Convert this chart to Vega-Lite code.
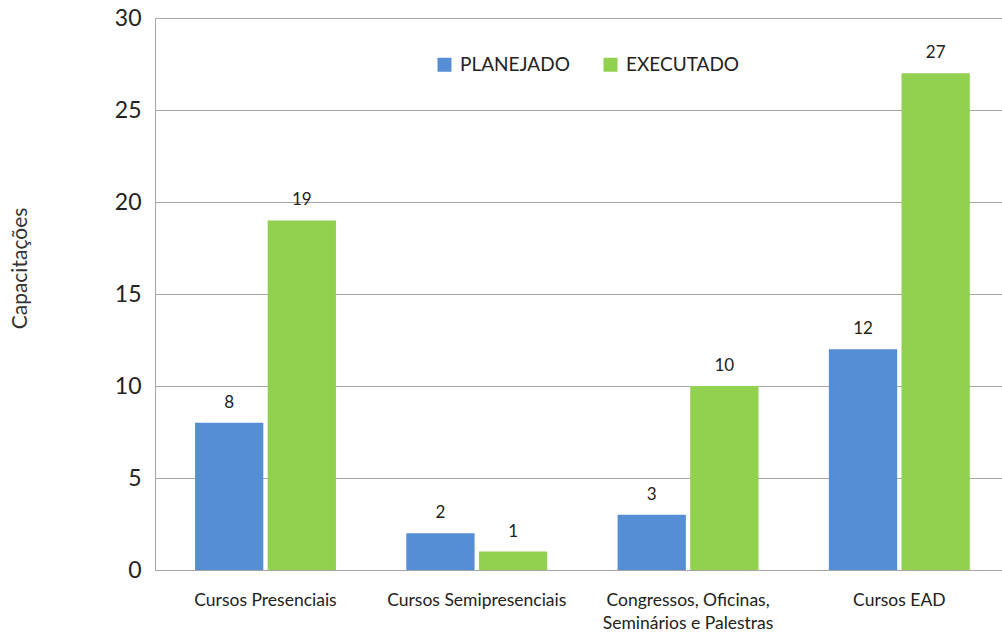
{
  "$schema": "https://vega.github.io/schema/vega-lite/v6.json",
  "autosize": "none",
  "width": 847,
  "height": 552,
  "padding": {"left": 155, "top": 18, "right": 0, "bottom": 62},
  "background": "white",
  "config": {
    "font": "Lato",
    "view": {"stroke": null}
  },
  "data": {
    "values": [
      {"categoria": "Cursos Presenciais", "tipo": "PLANEJADO", "valor": 8},
      {"categoria": "Cursos Presenciais", "tipo": "EXECUTADO", "valor": 19},
      {"categoria": "Cursos Semipresenciais", "tipo": "PLANEJADO", "valor": 2},
      {"categoria": "Cursos Semipresenciais", "tipo": "EXECUTADO", "valor": 1},
      {"categoria": "Congressos, Oficinas, Seminários e Palestras", "tipo": "PLANEJADO", "valor": 3},
      {"categoria": "Congressos, Oficinas, Seminários e Palestras", "tipo": "EXECUTADO", "valor": 10},
      {"categoria": "Cursos EAD", "tipo": "PLANEJADO", "valor": 12},
      {"categoria": "Cursos EAD", "tipo": "EXECUTADO", "valor": 27}
    ]
  },
  "encoding": {
    "x": {
      "field": "categoria",
      "type": "nominal",
      "sort": null,
      "scale": {"paddingInner": 0.333, "paddingOuter": 0.171, "align": 0.554},
      "axis": {
        "title": null,
        "labelAngle": 0,
        "labelFontSize": 17.5,
        "labelColor": "#222222",
        "labelPadding": 21,
        "labelLineHeight": 23,
        "labelBaseline": "top",
        "ticks": false,
        "domainColor": "#A6A6A6",
        "labelExpr": "datum.label == 'Congressos, Oficinas, Seminários e Palestras' ? ['Congressos, Oficinas,', 'Seminários e Palestras'] : datum.label"
      }
    },
    "xOffset": {
      "field": "tipo",
      "type": "nominal",
      "sort": ["PLANEJADO", "EXECUTADO"],
      "scale": {"paddingInner": 0.06}
    },
    "y": {
      "field": "valor",
      "type": "quantitative",
      "scale": {"domain": [0, 30]},
      "axis": {
        "title": "Capacitações",
        "titleFontSize": 21,
        "titleFontWeight": "normal",
        "titleColor": "#333333",
        "titleX": -125,
        "titleY": 250,
        "values": [0, 5, 10, 15, 20, 25, 30],
        "labelFontSize": 23,
        "labelColor": "#222222",
        "labelPadding": 14,
        "ticks": false,
        "domainColor": "#A6A6A6",
        "gridColor": "#A6A6A6",
        "gridWidth": 1
      }
    }
  },
  "layer": [
    {
      "mark": {"type": "bar"},
      "encoding": {
        "color": {
          "field": "tipo",
          "type": "nominal",
          "sort": ["PLANEJADO", "EXECUTADO"],
          "scale": {"domain": ["PLANEJADO", "EXECUTADO"], "range": ["#568ED5", "#92D050"]},
          "legend": {
            "title": null,
            "orient": "none",
            "direction": "horizontal",
            "legendX": 280,
            "legendY": 37,
            "symbolType": "square",
            "symbolSize": 196,
            "symbolStrokeWidth": 0,
            "labelFontSize": 19,
            "labelColor": "#222222",
            "columnPadding": 31,
            "labelOffset": 6
          }
        }
      }
    },
    {
      "mark": {"type": "text", "baseline": "alphabetic", "dy": -15, "fontSize": 17, "color": "#222222"},
      "encoding": {
        "text": {"field": "valor", "type": "quantitative"}
      }
    }
  ]
}
